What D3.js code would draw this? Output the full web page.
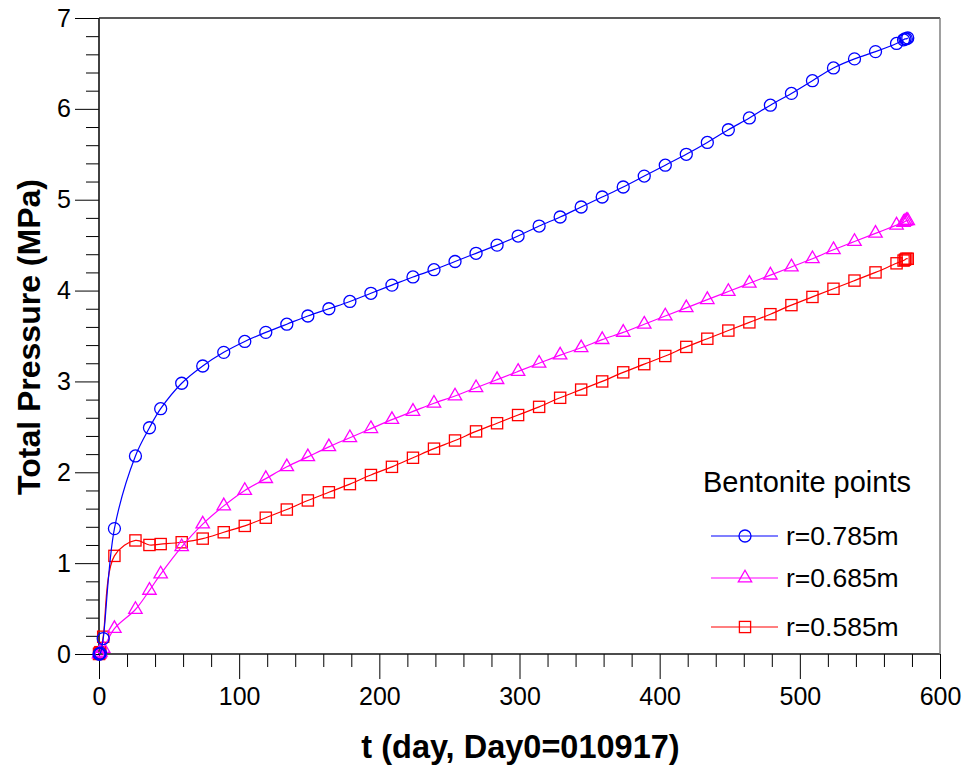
<!DOCTYPE html>
<html>
<head>
<meta charset="utf-8">
<script src="https://cdn.jsdelivr.net/npm/d3@7/dist/d3.min.js"></script>
<style>
  html, body { margin: 0; padding: 0; background: #fff; }
  svg { display: block; }
  text { font-family: "Liberation Sans", Arial, sans-serif; fill: #000; }
</style>
</head>
<body>
<svg id="chart" width="964" height="769"></svg>
<script>
// ---- Data ----
const days = [0, 0.5, 1, 3, 11, 26, 36, 44, 59, 74, 89, 104, 119, 134, 149, 164, 179, 194, 209, 224, 239, 254, 269, 284, 299, 314, 329, 344, 359, 374, 389, 404, 419, 434, 449, 464, 479, 494, 509, 524, 539, 554, 569, 574, 575, 576, 577];

const pressure_r0785 = [0, 0.00, 0.01, 0.17, 1.38, 2.18, 2.49, 2.70, 2.98, 3.17, 3.32, 3.44, 3.54, 3.63, 3.72, 3.80, 3.88, 3.97, 4.06, 4.15, 4.23, 4.32, 4.41, 4.50, 4.60, 4.71, 4.81, 4.92, 5.03, 5.14, 5.26, 5.38, 5.50, 5.63, 5.77, 5.90, 6.04, 6.17, 6.31, 6.45, 6.55, 6.63, 6.72, 6.76, 6.77, 6.77, 6.78];

const pressure_r0685 = [0, 0.01, 0.02, 0.06, 0.28, 0.49, 0.70, 0.88, 1.18, 1.43, 1.63, 1.80, 1.93, 2.06, 2.17, 2.28, 2.38, 2.48, 2.58, 2.67, 2.76, 2.84, 2.93, 3.02, 3.11, 3.20, 3.29, 3.37, 3.46, 3.54, 3.63, 3.72, 3.81, 3.90, 3.99, 4.08, 4.17, 4.26, 4.35, 4.45, 4.54, 4.63, 4.72, 4.75, 4.76, 4.77, 4.77];

const pressure_r0585 = [0, 0.01, 0.02, 0.19, 1.08, 1.25, 1.20, 1.21, 1.23, 1.27, 1.34, 1.41, 1.50, 1.59, 1.69, 1.78, 1.87, 1.97, 2.06, 2.16, 2.26, 2.35, 2.45, 2.54, 2.63, 2.72, 2.82, 2.91, 3.00, 3.10, 3.19, 3.28, 3.38, 3.47, 3.56, 3.65, 3.74, 3.84, 3.93, 4.02, 4.11, 4.20, 4.30, 4.33, 4.34, 4.35, 4.35];

const seriesNames = ["r=0.785m", "r=0.685m", "r=0.585m"];
const seriesColors = ["#0000ff", "#ff00ff", "#ff0000"];
const seriesMarkers = ["circle", "triangle", "square"];

const xTicks = [0, 100, 200, 300, 400, 500, 600];
const yTicks = [0, 1, 2, 3, 4, 5, 6, 7];
const legendTitle = "Bentonite points";
const xTitle = "t (day, Day0=010917)";
const yTitle = "Total Pressure (MPa)";

// ---- Layout ----
const svg = d3.select("#chart");
const L = 99, R = 940, T = 18, B = 654;

const x = d3.scaleLinear().domain([0, 600]).range([L, R]);
const y = d3.scaleLinear().domain([0, 7]).range([B, T]);

const font = '"Liberation Sans", Arial, sans-serif';

// Minor ticks
const xMinor = d3.range(0, 601, 20).filter(v => v % 100 !== 0);
const yMinor = d3.range(0, 7.01, 0.2).map(v => +v.toFixed(1)).filter(v => Math.abs(v - Math.round(v)) > 1e-6);

// X axis
const gx = svg.append("g").attr("transform", `translate(0,${B})`);
gx.call(d3.axisBottom(x).tickValues(xTicks).tickSize(25).tickPadding(26).tickSizeOuter(0).tickFormat(d3.format("d")));
gx.select(".domain").remove();
gx.selectAll(".tick line").attr("stroke", "#000").attr("stroke-width", 1);
gx.selectAll(".tick text").attr("font-size", 25).attr("font-family", font).attr("fill", "#000").attr("dy", "0.0em");
const gxm = svg.append("g").attr("transform", `translate(0,${B})`);
gxm.call(d3.axisBottom(x).tickValues(xMinor).tickSize(13).tickFormat(""));
gxm.select(".domain").remove();
gxm.selectAll(".tick line").attr("stroke", "#000").attr("stroke-width", 1);

// Y axis
const gy = svg.append("g").attr("transform", `translate(${L},0)`);
gy.call(d3.axisLeft(y).tickValues(yTicks).tickSize(24).tickPadding(4).tickSizeOuter(0).tickFormat(d3.format("d")));
gy.select(".domain").remove();
gy.selectAll(".tick line").attr("stroke", "#000").attr("stroke-width", 1);
gy.selectAll(".tick text").attr("font-size", 25).attr("font-family", font).attr("fill", "#000");
const gym = svg.append("g").attr("transform", `translate(${L},0)`);
gym.call(d3.axisLeft(y).tickValues(yMinor).tickSize(13).tickFormat(""));
gym.select(".domain").remove();
gym.selectAll(".tick line").attr("stroke", "#000").attr("stroke-width", 1);

// Frame
svg.append("line").attr("x1", L).attr("x2", L).attr("y1", T).attr("y2", B).attr("stroke", "#111").attr("stroke-width", 1.6);
svg.append("line").attr("x1", L).attr("x2", R).attr("y1", B).attr("y2", B).attr("stroke", "#111").attr("stroke-width", 1.6);
svg.append("line").attr("x1", L).attr("x2", R).attr("y1", T).attr("y2", T).attr("stroke", "#222").attr("stroke-width", 1.4);
svg.append("line").attr("x1", R).attr("x2", R).attr("y1", T).attr("y2", B).attr("stroke", "#777").attr("stroke-width", 1.4);

// Axis titles
svg.append("text").attr("x", (L + R) / 2 + 1).attr("y", 758).attr("text-anchor", "middle")
  .attr("font-size", 32.5).attr("font-weight", "bold").attr("font-family", font).text(xTitle);
svg.append("text").attr("transform", `translate(40,${(T + B) / 2 + 1}) rotate(-90)`).attr("text-anchor", "middle")
  .attr("font-size", 32).attr("font-weight", "bold").attr("font-family", font).text(yTitle);

// Marker drawing
function drawMarker(g, type, cx, cy, color) {
  if (type === "circle") {
    g.append("circle").attr("cx", cx).attr("cy", cy).attr("r", 6)
      .attr("fill", "none").attr("stroke", color).attr("stroke-width", 1.3);
  } else if (type === "triangle") {
    const s = d3.symbol().type(d3.symbolTriangle).size(78);
    g.append("path").attr("d", s()).attr("transform", `translate(${cx},${cy})`)
      .attr("fill", "none").attr("stroke", color).attr("stroke-width", 1.3);
  } else {
    g.append("rect").attr("x", cx - 5.6).attr("y", cy - 5.6).attr("width", 11.2).attr("height", 11.2)
      .attr("fill", "none").attr("stroke", color).attr("stroke-width", 1.3);
  }
}

const allSeries = [pressure_r0785, pressure_r0685, pressure_r0585];
const line = d3.line().x(d => x(d[0])).y(d => y(d[1])).curve(d3.curveCatmullRom.alpha(0.5));

// Draw series in reverse so blue is on top
[2, 1, 0].forEach(i => {
  const pts = days.map((t, k) => [t, allSeries[i][k]]);
  const g = svg.append("g");
  g.append("path").datum(pts).attr("d", line).attr("fill", "none")
    .attr("stroke", seriesColors[i]).attr("stroke-width", 1.2);
  pts.forEach(p => drawMarker(g, seriesMarkers[i], x(p[0]), y(p[1]), seriesColors[i]));
});

// Legend
const lg = svg.append("g");
lg.append("text").attr("x", 703).attr("y", 492).attr("font-size", 29).attr("font-family", font).text(legendTitle);
const legendY = [536, 578, 627];
seriesNames.forEach((name, i) => {
  const ly = legendY[i];
  lg.append("line").attr("x1", 711).attr("x2", 778).attr("y1", ly).attr("y2", ly)
    .attr("stroke", seriesColors[i]).attr("stroke-width", 1.2);
  drawMarker(lg, seriesMarkers[i], 745, ly, seriesColors[i]);
  lg.append("text").attr("x", 786).attr("y", ly + 9).attr("font-size", 26.5).attr("font-family", font).text(name);
});
</script>
</body>
</html>
